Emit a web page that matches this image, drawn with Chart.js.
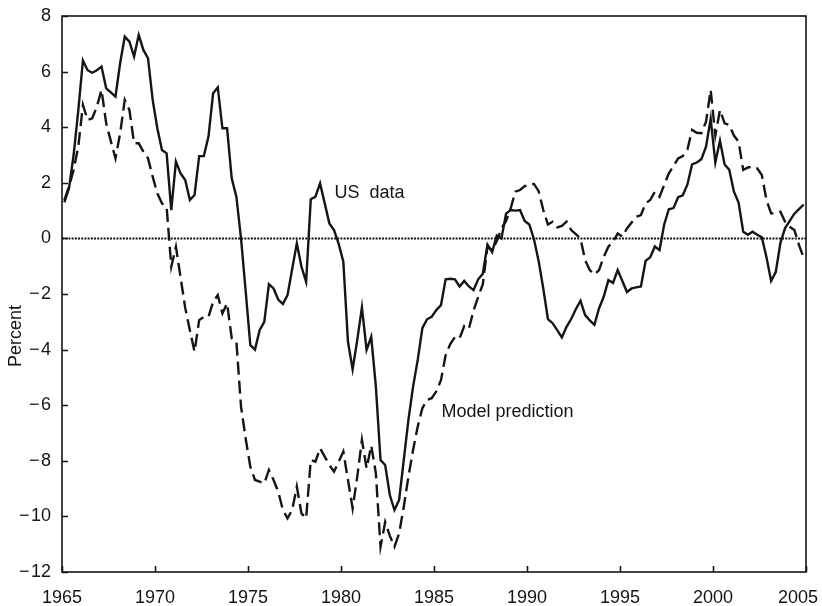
<!DOCTYPE html>
<html>
<head>
<meta charset="utf-8">
<script src="https://cdn.jsdelivr.net/npm/chart.js@4/dist/chart.umd.min.js"></script>
<style>
  html, body { margin: 0; padding: 0; background: #fff; }
  canvas { display: block; }
</style>
</head>
<body>
<canvas id="c" width="822" height="606"></canvas>
<script>
// Quarterly observations, 1965Q1 .. 2004Q4
const startYear = 1965;
const usData = [
  1.3, 1.8, 3.0, 4.6,
  6.4, 6.05, 5.96, 6.05,
  6.18, 5.4, 5.25, 5.1,
  6.3, 7.26, 7.08, 6.54,
  7.32, 6.78, 6.48, 4.98,
  3.96, 3.18, 3.06, 1.02,
  2.76, 2.34, 2.1, 1.38,
  1.56, 2.96, 2.96, 3.66,
  5.22, 5.43, 3.96, 3.96,
  2.16, 1.5, 0.0, -1.9,
  -3.84, -4.0, -3.3, -3.0,
  -1.65, -1.8, -2.2, -2.36,
  -2.04, -1.1, -0.18, -1.02,
  -1.56, 1.41, 1.5, 1.98,
  1.26, 0.54, 0.3, -0.2,
  -0.84, -3.72, -4.71, -3.65,
  -2.48, -4.01, -3.54, -5.33,
  -7.97, -8.15, -9.23, -9.77,
  -9.41, -7.97, -6.53, -5.33,
  -4.37, -3.23, -2.91, -2.82,
  -2.58, -2.4, -1.47, -1.45,
  -1.47, -1.73, -1.53, -1.73,
  -1.86, -1.47, -1.27, -0.22,
  -0.49, 0.1, 0.0, 0.89,
  1.02, 1.0, 1.02, 0.63,
  0.5, -0.03, -0.81, -1.8,
  -2.9, -3.05, -3.3, -3.56,
  -3.18, -2.9, -2.55, -2.24,
  -2.76, -2.95, -3.11, -2.51,
  -2.1, -1.5, -1.6, -1.14,
  -1.53, -1.93, -1.8, -1.76,
  -1.73, -0.81, -0.68, -0.29,
  -0.42, 0.5, 1.05, 1.09,
  1.48, 1.55, 1.94, 2.66,
  2.73, 2.85, 3.3, 4.3,
  2.73, 3.51, 2.66, 2.47,
  1.68, 1.29, 0.24, 0.13,
  0.24, 0.13, 0.04, -0.68,
  -1.53, -1.21, -0.16, 0.37,
  0.63, 0.89, 1.05, 1.22
];
const modelPrediction = [
  1.38, 1.86, 2.46, 3.3,
  4.8, 4.26, 4.32, 4.74,
  5.34, 4.14, 3.5, 2.88,
  3.78, 4.98, 4.62, 3.42,
  3.42, 3.12, 2.88, 2.22,
  1.62, 1.26, 1.14, -1.02,
  -0.3, -1.4, -2.5, -3.3,
  -4.07, -2.94, -2.82, -2.82,
  -2.28, -2.04, -2.7, -2.34,
  -3.59, -3.71, -6.05, -7.2,
  -8.21, -8.69, -8.75, -8.81,
  -8.33, -8.69, -9.11, -9.77,
  -10.07, -9.77, -8.93, -9.89,
  -10.07, -7.97, -8.03, -7.55,
  -7.85, -8.15, -8.39, -8.03,
  -7.67, -8.69, -9.71, -8.57,
  -7.25, -8.27, -7.45, -8.45,
  -11.09, -10.2, -10.7, -11.09,
  -10.61, -9.65, -8.57, -7.61,
  -6.77, -6.11, -5.81, -5.75,
  -5.5, -5.1, -4.2, -3.8,
  -3.55, -3.6, -3.15, -3.25,
  -2.6, -2.1, -1.65, -0.3,
  -0.42, -0.09, 0.35, 0.63,
  1.09, 1.68, 1.74, 1.88,
  1.94, 1.96, 1.7, 1.02,
  0.5, 0.6, 0.4, 0.45,
  0.6, 0.3, 0.15, 0.0,
  -0.78, -1.14, -1.3, -1.14,
  -0.66, -0.3, -0.12, 0.18,
  0.06, 0.36, 0.57, 0.78,
  0.84, 1.26, 1.38, 1.68,
  1.5, 1.92, 2.34, 2.6,
  2.88, 2.96, 3.2, 3.9,
  3.8, 3.78, 4.2, 5.34,
  3.7, 4.62, 4.14, 4.08,
  3.7, 3.48, 2.46, 2.55,
  2.58, 2.52, 2.28, 1.38,
  0.9, 0.9, 0.96, 0.6,
  0.42, 0.3, -0.24, -0.7
];
const xTicks = [1965, 1970, 1975, 1980, 1985, 1990, 1995, 2000, 2005];
const yTicks = [-12, -10, -8, -6, -4, -2, 0, 2, 4, 6, 8];
const seriesLabels = ['US  data', 'Model prediction'];
const axisTitle = 'Percent';

const toPoints = arr => arr.map((v, i) => ({ x: startYear + (i + 0.5) / 4, y: v }));
const FAMILY = '"Liberation Sans", Arial, Helvetica, sans-serif';
const FONT = '18px ' + FAMILY;
const INK = '#151515';

const decor = {
  id: 'decor',
  afterDraw(chart) {
    const { ctx, chartArea: a, scales: { x, y } } = chart;
    ctx.save();
    ctx.strokeStyle = INK;
    ctx.lineWidth = 1.6;
    ctx.strokeRect(a.left, a.top, a.right - a.left, a.bottom - a.top);
    ctx.beginPath();
    xTicks.forEach(v => {
      const px = Math.round(x.getPixelForValue(v)) + 0.5;
      ctx.moveTo(px, a.bottom); ctx.lineTo(px, a.bottom - 6);
    });
    yTicks.forEach(v => {
      const py = Math.round(y.getPixelForValue(v)) + 0.5;
      ctx.moveTo(a.left, py); ctx.lineTo(a.left + 6, py);
    });
    ctx.stroke();

    ctx.font = FONT;
    ctx.fillStyle = INK;
    ctx.textBaseline = 'middle';
    ctx.textAlign = 'center';
    xTicks.forEach(v => {
      const s = String(v);
      const w = ctx.measureText(s).width;
      let px = x.getPixelForValue(v);
      if (px + w / 2 > chart.width - 4) px = chart.width - 4 - w / 2;
      ctx.fillText(s, px, a.bottom + 26);
    });

    ctx.save();
    ctx.translate(16, 336);
    ctx.rotate(-Math.PI / 2);
    ctx.fillText(axisTitle, 0, 0);
    ctx.restore();

    ctx.textAlign = 'left';
    ctx.fillText(seriesLabels[0], x.getPixelForValue(1979.65), y.getPixelForValue(1.63));
    ctx.fillText(seriesLabels[1], x.getPixelForValue(1985.4), y.getPixelForValue(-6.24));
    ctx.restore();
  }
};

new Chart(document.getElementById('c'), {
  type: 'line',
  data: {
    datasets: [
      {
        label: seriesLabels[0],
        data: toPoints(usData),
        borderColor: INK,
        borderWidth: 2.4,
        pointRadius: 0,
        tension: 0,
        order: 1
      },
      {
        label: seriesLabels[1],
        data: toPoints(modelPrediction),
        borderColor: INK,
        borderWidth: 2.4,
        borderDash: [13, 6],
        pointRadius: 0,
        tension: 0,
        order: 2
      },
      {
        label: 'zero',
        data: [{ x: 1965, y: 0 }, { x: 2005, y: 0 }],
        borderColor: INK,
        borderWidth: 2,
        borderDash: [2, 1.2],
        pointRadius: 0,
        order: 3
      }
    ]
  },
  options: {
    responsive: false,
    animation: false,
    devicePixelRatio: 1,
    layout: { padding: { top: 16, right: 16, left: 0, bottom: 0 } },
    plugins: { legend: { display: false }, tooltip: { enabled: false } },
    scales: {
      x: {
        type: 'linear',
        min: 1965,
        max: 2005,
        grid: { display: false, drawTicks: false },
        border: { display: false },
        ticks: { display: false, stepSize: 5 },
        afterFit(s) { s.height = 34; s.paddingLeft = 0; s.paddingRight = 0; }
      },
      y: {
        min: -12,
        max: 8,
        grid: { display: false, drawTicks: false },
        border: { display: false },
        ticks: {
          stepSize: 2,
          autoSkip: false,
          padding: 11,
          color: INK,
          font: { family: FAMILY, size: 18 },
          callback: v => (v < 0 ? '\u2212\u200a' + Math.abs(v) : String(v))
        },
        afterFit(s) { s.width = 62; s.paddingTop = 0; s.paddingBottom = 0; }
      }
    }
  },
  plugins: [decor]
});
</script>
</body>
</html>
